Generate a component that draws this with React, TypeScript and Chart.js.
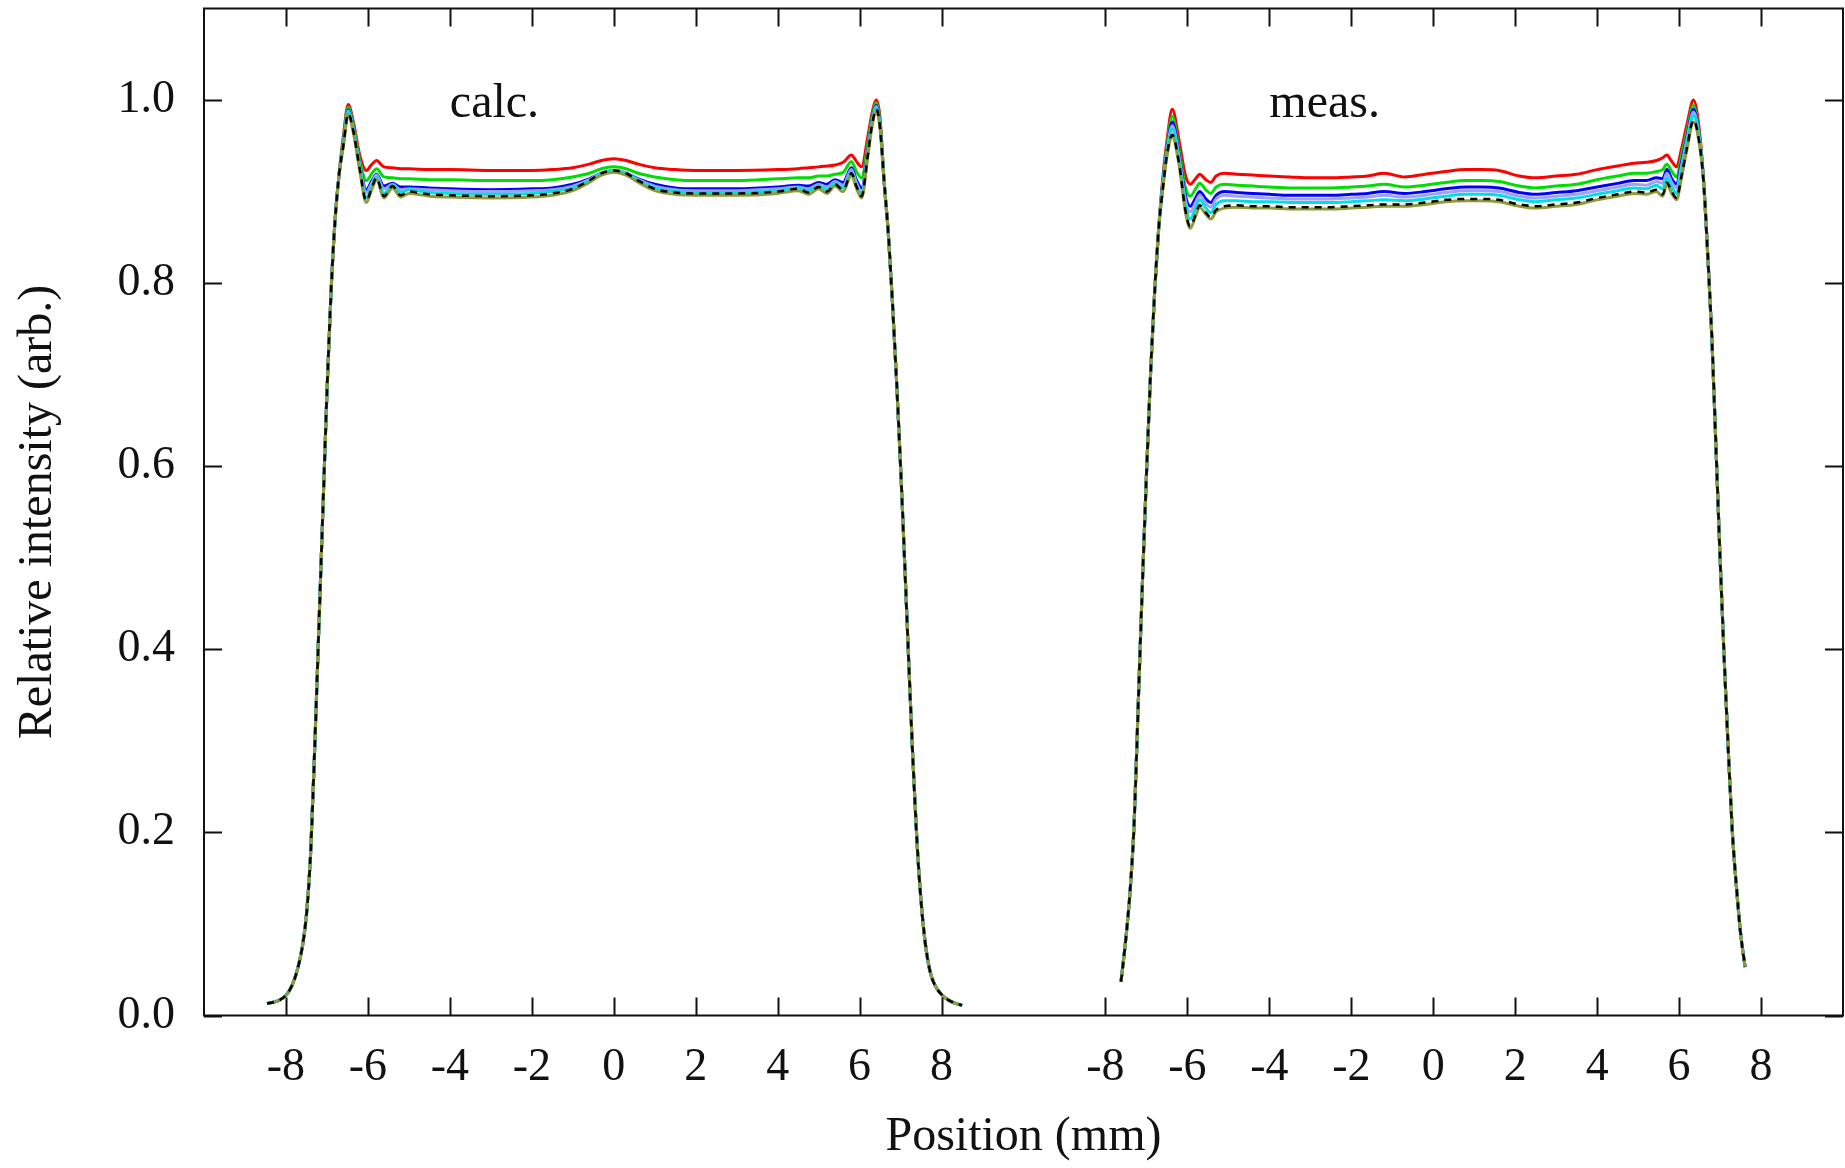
import React, { useEffect, useRef } from "react";
import { Chart, registerables } from "chart.js";

Chart.register(...registerables);

// ---------- axis / label data ----------
const PANEL_OFFSET = 20; // meas. panel is drawn 20 units right of calc. panel
const xTickValues = [-8, -6, -4, -2, 0, 2, 4, 6, 8, 12, 14, 16, 18, 20, 22, 24, 26, 28];
const yTickValues = [0, 0.2, 0.4, 0.6, 0.8, 1.0];
const xTitle = "Position (mm)";
const yTitle = "Relative intensity (arb.)";
const panelLabels = ["calc.", "meas."];
const panelLabelX = [-4, -4];
const panelLabelY = [0.982, 0.982];

// ---------- calc. panel ----------
const calcRiseX = [-8.46, -8.2, -8.0, -7.85, -7.72, -7.6, -7.5, -7.4, -7.3, -7.2, -7.1, -7.0, -6.9, -6.8, -6.7];
const calcRiseY = [0.013, 0.016, 0.022, 0.033, 0.05, 0.075, 0.11, 0.175, 0.29, 0.42, 0.55, 0.68, 0.79, 0.87, 0.92];
const calcFallX = [6.6, 6.7, 6.8, 6.9, 7.0, 7.1, 7.2, 7.3, 7.4, 7.5, 7.6, 7.72, 7.85, 8.0, 8.2, 8.5];
const calcFallY = [0.91, 0.855, 0.78, 0.695, 0.6, 0.495, 0.385, 0.28, 0.19, 0.125, 0.08, 0.048, 0.032, 0.023, 0.016, 0.011];
const calcMidX = [-6.6, -6.48, -6.35, -6.2, -6.04, -5.9, -5.79, -5.61, -5.4, -5.2, -5.0, -4.5, -4.0, -3.0, -2.0, -1.5, -1.0, -0.6, -0.3, 0, 0.3, 0.6, 1.0, 1.5, 2.0, 3.0, 4.0, 4.5, 4.75, 5.0, 5.2, 5.4, 5.6, 5.8, 5.92, 6.05, 6.2, 6.3, 6.41, 6.5];
const calcRed = [0.96, 0.995, 0.975, 0.94, 0.923, 0.93, 0.934, 0.927, 0.926, 0.925, 0.925, 0.924, 0.924, 0.923, 0.923, 0.924, 0.926, 0.93, 0.934, 0.936, 0.934, 0.93, 0.926, 0.924, 0.923, 0.923, 0.924, 0.925, 0.926, 0.927, 0.928, 0.929, 0.932, 0.94, 0.933, 0.927, 0.96, 0.985, 1.0, 0.98];
const calcGreen = [0.957, 0.992, 0.972, 0.935, 0.912, 0.92, 0.925, 0.916, 0.915, 0.914, 0.914, 0.913, 0.913, 0.912, 0.912, 0.913, 0.916, 0.92, 0.925, 0.927, 0.925, 0.92, 0.916, 0.913, 0.912, 0.912, 0.914, 0.915, 0.915, 0.917, 0.917, 0.919, 0.921, 0.933, 0.922, 0.915, 0.952, 0.98, 0.997, 0.976];
const calcBlue = [0.953, 0.989, 0.968, 0.93, 0.902, 0.912, 0.919, 0.906, 0.909, 0.905, 0.905, 0.904, 0.903, 0.902, 0.903, 0.904, 0.908, 0.914, 0.92, 0.923, 0.92, 0.914, 0.908, 0.904, 0.903, 0.903, 0.905, 0.907, 0.906, 0.91, 0.908, 0.913, 0.91, 0.926, 0.913, 0.904, 0.945, 0.976, 0.994, 0.973];
const calcLavender = [0.952, 0.988, 0.967, 0.929, 0.899, 0.91, 0.918, 0.903, 0.908, 0.902, 0.903, 0.902, 0.901, 0.9, 0.901, 0.902, 0.906, 0.913, 0.92, 0.923, 0.92, 0.913, 0.906, 0.902, 0.901, 0.901, 0.903, 0.905, 0.903, 0.908, 0.905, 0.911, 0.907, 0.924, 0.91, 0.9, 0.943, 0.975, 0.993, 0.972];
const calcCyan = [0.951, 0.987, 0.966, 0.927, 0.893, 0.907, 0.916, 0.898, 0.907, 0.899, 0.902, 0.899, 0.898, 0.897, 0.898, 0.9, 0.904, 0.912, 0.92, 0.923, 0.92, 0.912, 0.904, 0.9, 0.899, 0.899, 0.901, 0.904, 0.901, 0.906, 0.902, 0.909, 0.904, 0.921, 0.907, 0.897, 0.941, 0.973, 0.991, 0.971];
const calcOlive = [0.949, 0.984, 0.963, 0.923, 0.888, 0.903, 0.913, 0.893, 0.904, 0.894, 0.898, 0.895, 0.894, 0.893, 0.894, 0.896, 0.901, 0.91, 0.918, 0.921, 0.918, 0.91, 0.901, 0.897, 0.896, 0.896, 0.898, 0.901, 0.897, 0.903, 0.898, 0.906, 0.9, 0.918, 0.904, 0.893, 0.938, 0.97, 0.988, 0.968];
const calcBlack = [0.95, 0.985, 0.965, 0.925, 0.89, 0.905, 0.915, 0.895, 0.906, 0.896, 0.9, 0.897, 0.896, 0.895, 0.896, 0.898, 0.903, 0.912, 0.92, 0.923, 0.92, 0.912, 0.903, 0.899, 0.898, 0.898, 0.9, 0.903, 0.899, 0.905, 0.9, 0.908, 0.902, 0.92, 0.906, 0.895, 0.94, 0.972, 0.99, 0.97];

// ---------- meas. panel ----------
const measRiseX = [-7.62, -7.5, -7.4, -7.3, -7.2, -7.1, -7.0, -6.9, -6.8, -6.7];
const measRiseY = [0.037, 0.085, 0.135, 0.21, 0.34, 0.47, 0.59, 0.7, 0.79, 0.86];
const measFallX = [6.6, 6.7, 6.8, 6.9, 7.0, 7.1, 7.2, 7.3, 7.4, 7.5, 7.61];
const measFallY = [0.91, 0.83, 0.74, 0.62, 0.5, 0.39, 0.29, 0.2, 0.14, 0.09, 0.053];
const measMidX = [-6.6, -6.5, -6.37, -6.2, -6.05, -5.93, -5.8, -5.7, -5.55, -5.43, -5.3, -5.1, -4.8, -4.4, -4.0, -3.5, -3.0, -2.5, -2.0, -1.6, -1.2, -0.7, -0.2, 0.3, 0.8, 1.2, 1.6, 2.1, 2.5, 3.0, 3.5, 4.0, 4.5, 4.9, 5.2, 5.45, 5.6, 5.7, 5.82, 5.94, 6.05, 6.2, 6.35, 6.5];
const measRed = [0.915, 0.955, 0.99, 0.955, 0.918, 0.908, 0.914, 0.919, 0.913, 0.91, 0.917, 0.92, 0.919, 0.918, 0.917, 0.916, 0.915, 0.915, 0.916, 0.917, 0.92, 0.916, 0.919, 0.922, 0.924, 0.924, 0.923, 0.917, 0.915, 0.917, 0.919, 0.924, 0.928, 0.931, 0.932, 0.934, 0.937, 0.94, 0.933, 0.927, 0.945, 0.975, 1.0, 0.965];
const measGreen = [0.912, 0.95, 0.982, 0.945, 0.905, 0.895, 0.903, 0.909, 0.902, 0.898, 0.905, 0.908, 0.907, 0.906, 0.905, 0.904, 0.904, 0.904, 0.905, 0.906, 0.908, 0.905, 0.907, 0.91, 0.912, 0.912, 0.911, 0.906, 0.904, 0.906, 0.908, 0.913, 0.917, 0.92, 0.92, 0.922, 0.924, 0.93, 0.922, 0.916, 0.937, 0.968, 0.994, 0.96];
const measBlue = [0.91, 0.946, 0.976, 0.94, 0.896, 0.884, 0.893, 0.9, 0.892, 0.888, 0.896, 0.9, 0.899, 0.898, 0.897, 0.896, 0.896, 0.896, 0.897, 0.898, 0.9, 0.898, 0.9, 0.903, 0.905, 0.905, 0.904, 0.899, 0.897, 0.899, 0.901, 0.905, 0.909, 0.912, 0.912, 0.915, 0.914, 0.924, 0.914, 0.908, 0.93, 0.962, 0.99, 0.958];
const measLavender = [0.908, 0.944, 0.972, 0.937, 0.891, 0.878, 0.888, 0.896, 0.887, 0.883, 0.892, 0.896, 0.895, 0.894, 0.893, 0.892, 0.892, 0.892, 0.893, 0.894, 0.896, 0.894, 0.896, 0.899, 0.901, 0.901, 0.9, 0.895, 0.893, 0.895, 0.897, 0.901, 0.905, 0.908, 0.907, 0.911, 0.909, 0.92, 0.91, 0.904, 0.926, 0.959, 0.987, 0.957];
const measCyan = [0.906, 0.942, 0.968, 0.934, 0.886, 0.87, 0.882, 0.891, 0.882, 0.877, 0.886, 0.89, 0.89, 0.889, 0.889, 0.888, 0.888, 0.888, 0.889, 0.89, 0.891, 0.89, 0.892, 0.895, 0.897, 0.897, 0.896, 0.891, 0.889, 0.891, 0.893, 0.897, 0.901, 0.904, 0.903, 0.907, 0.903, 0.915, 0.905, 0.898, 0.92, 0.955, 0.983, 0.955];
const measOlive = [0.902, 0.938, 0.96, 0.928, 0.878, 0.86, 0.873, 0.883, 0.875, 0.87, 0.878, 0.882, 0.883, 0.882, 0.882, 0.881, 0.881, 0.881, 0.882, 0.883, 0.884, 0.884, 0.886, 0.889, 0.89, 0.89, 0.889, 0.884, 0.882, 0.884, 0.886, 0.891, 0.895, 0.898, 0.897, 0.9, 0.895, 0.908, 0.898, 0.891, 0.913, 0.948, 0.976, 0.95];
const measBlack = [0.903, 0.94, 0.962, 0.93, 0.88, 0.862, 0.875, 0.885, 0.877, 0.872, 0.88, 0.884, 0.885, 0.884, 0.884, 0.883, 0.883, 0.883, 0.884, 0.885, 0.886, 0.886, 0.888, 0.891, 0.892, 0.892, 0.891, 0.886, 0.884, 0.886, 0.888, 0.893, 0.897, 0.9, 0.899, 0.902, 0.897, 0.91, 0.9, 0.893, 0.915, 0.95, 0.978, 0.952];

// draw order: first entry ends up on top
const seriesNames = ["black", "olive", "cyan", "lavender", "blue", "green", "red"];
const seriesColors = ["#000000", "#8f9a3a", "#00e0e0", "#a0a0ff", "#0000ff", "#00dd00", "#ff0000"];
const calcSeries = [calcBlack, calcOlive, calcCyan, calcLavender, calcBlue, calcGreen, calcRed];
const measSeries = [measBlack, measOlive, measCyan, measLavender, measBlue, measGreen, measRed];

const FONT = '"Liberation Serif", "Times New Roman", serif';
const INK = "#111111";

function buildPoints(
  riseX: number[], riseY: number[],
  midX: number[], midY: number[],
  fallX: number[], fallY: number[],
  offset: number
) {
  const pts: { x: number; y: number }[] = [];
  riseX.forEach((v, i) => pts.push({ x: v + offset, y: riseY[i] }));
  midX.forEach((v, i) => pts.push({ x: v + offset, y: midY[i] }));
  fallX.forEach((v, i) => pts.push({ x: v + offset, y: fallY[i] }));
  return pts;
}

const framePlugin = {
  id: "framePlugin",
  afterDraw(chart: any) {
    const { ctx, chartArea: a } = chart;
    const xs = chart.scales.x;
    const ys = chart.scales.y;
    ctx.save();
    ctx.strokeStyle = INK;
    ctx.lineWidth = 2;
    ctx.strokeRect(a.left, a.top, a.right - a.left, a.bottom - a.top);
    const tl = 18;
    ctx.beginPath();
    for (const v of xTickValues) {
      const px = Math.round(xs.getPixelForValue(v)) + 0.5;
      ctx.moveTo(px, a.bottom);
      ctx.lineTo(px, a.bottom - tl);
      ctx.moveTo(px, a.top);
      ctx.lineTo(px, a.top + tl);
    }
    for (const v of yTickValues) {
      const py = Math.round(ys.getPixelForValue(v)) + 0.5;
      ctx.moveTo(a.left, py);
      ctx.lineTo(a.left + tl, py);
      ctx.moveTo(a.right, py);
      ctx.lineTo(a.right - tl, py);
    }
    ctx.stroke();
    ctx.fillStyle = INK;
    ctx.font = `48px ${FONT}`;
    ctx.textAlign = "left";
    ctx.textBaseline = "alphabetic";
    panelLabels.forEach((t, i) => {
      const off = i === 0 ? 0 : PANEL_OFFSET;
      ctx.fillText(t, xs.getPixelForValue(panelLabelX[i] + off), ys.getPixelForValue(panelLabelY[i]));
    });
    ctx.restore();
  },
};

export default function App() {
  const canvasRef = useRef<HTMLCanvasElement | null>(null);

  useEffect(() => {
    const canvas = canvasRef.current;
    if (!canvas) return;
    const datasets: any[] = [];
    seriesNames.forEach((name, i) => {
      const isBlack = name === "black";
      const common = {
        borderColor: seriesColors[i],
        borderWidth: isBlack ? 2.5 : 3,
        borderDash: isBlack ? [7, 6] : [],
        pointRadius: 0,
        fill: false,
        cubicInterpolationMode: "monotone" as const,
      };
      datasets.push({
        ...common,
        label: "calc " + name,
        data: buildPoints(calcRiseX, calcRiseY, calcMidX, calcSeries[i], calcFallX, calcFallY, 0),
      });
      datasets.push({
        ...common,
        label: "meas " + name,
        data: buildPoints(measRiseX, measRiseY, measMidX, measSeries[i], measFallX, measFallY, PANEL_OFFSET),
      });
    });

    const chart = new Chart(canvas, {
      type: "line",
      data: { datasets },
      options: {
        responsive: false,
        animation: false,
        devicePixelRatio: 1,
        layout: { padding: { left: 0, right: 2, top: 8.5, bottom: 0 } },
        plugins: { legend: { display: false }, tooltip: { enabled: false } },
        scales: {
          x: {
            type: "linear",
            min: -10,
            max: 30,
            grid: { display: false, drawTicks: false },
            border: { display: false },
            afterFit: (s: any) => {
              s.height = 152.5;
              s.paddingLeft = 0;
              s.paddingRight = 0;
              s.paddingTop = 0;
              s.paddingBottom = 0;
            },
            afterBuildTicks: (s: any) => { s.ticks = xTickValues.map((v) => ({ value: v })); },
            ticks: {
              padding: 25,
              color: INK,
              font: { family: FONT, size: 46 },
              maxRotation: 0,
              autoSkip: false,
              callback: (v: any) => String(Number(v) > 10 ? Number(v) - PANEL_OFFSET : Number(v)),
            },
            title: {
              display: true,
              text: xTitle,
              color: INK,
              font: { family: FONT, size: 48 },
              padding: { top: 0, bottom: 2 },
            },
          },
          y: {
            type: "linear",
            min: 0,
            max: 1.1,
            grid: { display: false, drawTicks: false },
            border: { display: false },
            afterFit: (s: any) => {
              s.width = 204;
              s.paddingLeft = 0;
              s.paddingRight = 0;
              s.paddingTop = 0;
              s.paddingBottom = 0;
            },
            afterBuildTicks: (s: any) => { s.ticks = yTickValues.map((v) => ({ value: v })); },
            ticks: {
              padding: 29,
              color: INK,
              font: { family: FONT, size: 46 },
              callback: (v: any) => Number(v).toFixed(1),
            },
            title: {
              display: true,
              text: yTitle,
              color: INK,
              font: { family: FONT, size: 48 },
              padding: { top: 10, bottom: 0 },
            },
          },
        },
      },
      plugins: [framePlugin],
    });
    return () => chart.destroy();
  }, []);

  return (
    <div style={{ position: "fixed", left: 0, top: 0, width: 1845, height: 1168, background: "#ffffff" }}>
      <canvas ref={canvasRef} width={1845} height={1168} style={{ display: "block", width: 1845, height: 1168 }} />
    </div>
  );
}
